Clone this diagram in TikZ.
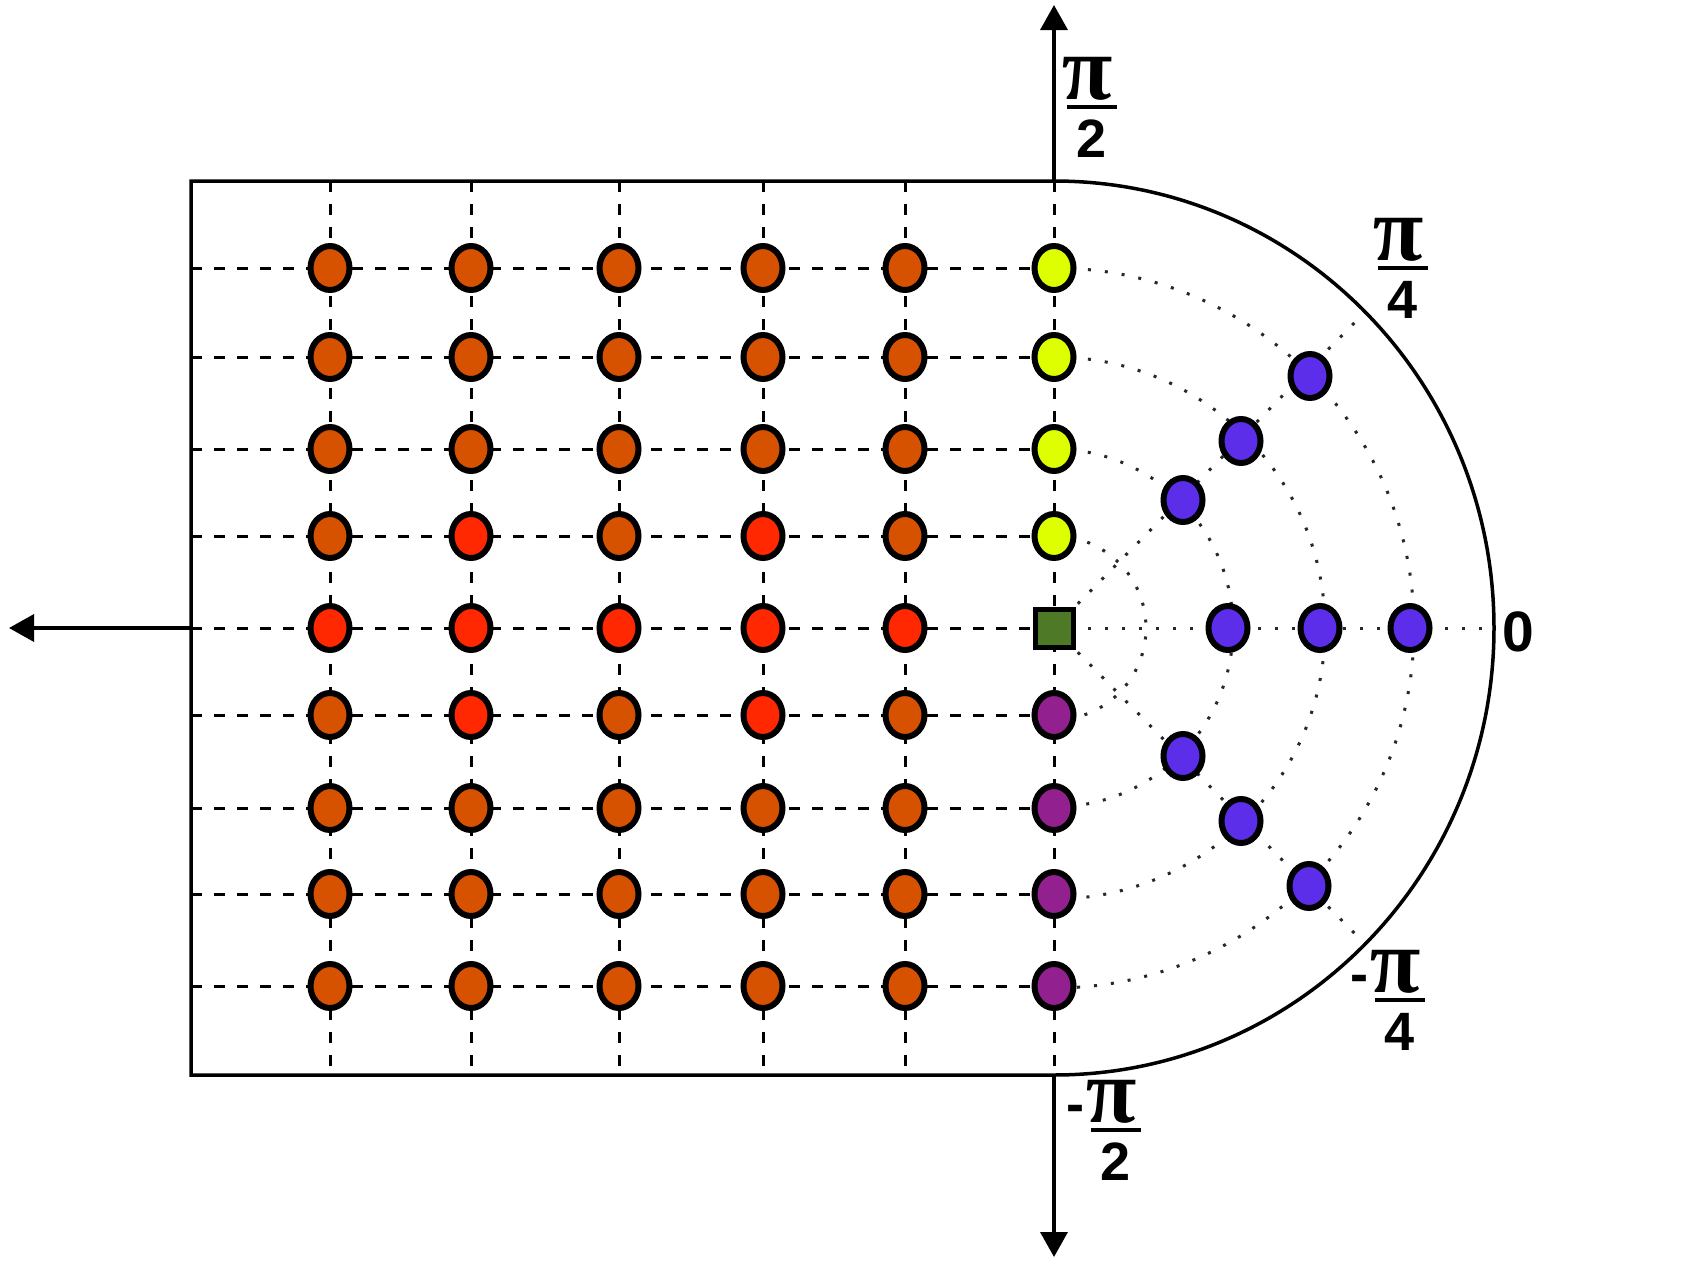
\documentclass[tikz,border=0pt]{standalone}
\usepackage{fontspec}
\setmainfont{Liberation Sans}
\newfontfamily\pifam[FakeSlant=-0.16]{Liberation Serif Bold Italic}
\usetikzlibrary{shapes.geometric,arrows.meta}
\definecolor{cOr}{RGB}{214,82,0}
\definecolor{cRd}{RGB}{255,40,0}
\definecolor{cYe}{RGB}{221,255,0}
\definecolor{cPu}{RGB}{146,32,142}
\definecolor{cBl}{RGB}{92,46,234}
\definecolor{cGr}{RGB}{78,122,40}
\definecolor{cDot}{RGB}{40,40,40}
\newcommand\pisym{{\pifam\fontsize{92}{92}\selectfont π}}
\newcommand\lfrac[2]{{\setlength\arrayrulewidth{4pt}\renewcommand\arraystretch{0}%
\begin{tabular}{@{}c@{}}#1\rule[-6pt]{0pt}{44pt}\\\hline\rule{0pt}{48pt}#2\end{tabular}}}
\newcommand\negsign{\llap{-\hspace{6pt}}}
\begin{document}
\begin{tikzpicture}[x=1pt,y=-1pt,
  gridline/.style={line width=3pt, dash pattern=on 11pt off 12pt},
  dotline/.style={line width=3pt, cDot, dash pattern=on 3pt off 14pt},
  outline/.style={line width=3.5pt, black},
  axisline/.style={line width=3.5pt, black, -{Triangle[width=27pt,length=25pt]}},
  dotnode/.style={ellipse, draw=black, line width=6pt, minimum width=39pt, minimum height=44pt, inner sep=0pt},
  sqnode/.style={rectangle, draw=black, line width=5pt, minimum size=38pt, inner sep=0pt, fill=cGr},
  lab/.style={font=\bfseries\fontsize{54}{54}\selectfont, inner sep=0pt}]
\useasboundingbox (0,0) rectangle (1706,1277);
\fill[white] (0,0) rectangle (1706,1277);
% coordinates
\coordinate (c) at (1054,628);
\coordinate (tl) at (191,181);
\coordinate (bl) at (191,1075);
\coordinate (tr) at (1054,181);
\coordinate (br) at (1054,1075);
\coordinate (topTip) at (1054,5);
\coordinate (botTip) at (1054,1257);
\coordinate (leftTip) at (9,628);
\coordinate (lm) at (191,628);
\coordinate (e45) at (1365,312);
\coordinate (em45) at (1365,944);
\coordinate (e0) at (1492,628);
% dashed grid
\foreach \y in {268,357,449,536,628,715,808,894,986}
  \draw[gridline] (191,\y) -- (1054,\y);
\foreach \x in {330,471,619,763,905,1054}
  \draw[gridline] (\x,181) -- (\x,1075);
% dotted polar lines
\foreach \r in {92,179,271,360}
  \draw[dotline] (1054,628-\r) arc[start angle=-90, end angle=90, radius=\r];
\draw[dotline] (c) -- (e45);
\draw[dotline] (c) -- (em45);
\draw[dotline] (c) -- (e0);
% outline
\draw[outline] (tr) -- (tl) -- (bl) -- (br)
  arc[start angle=90, end angle=-90, x radius=440, y radius=447];
% axes
\draw[axisline] (tr) -- (topTip);
\draw[axisline] (br) -- (botTip);
\draw[axisline] (lm) -- (leftTip);
% grid dots
\foreach \y [count=\r] in {268,357,449,536,628,715,808,894,986}{
  \foreach \x [count=\cc] in {330,471,619,763,905}{
    \def\col{cOr}
    \ifnum\r=5 \def\col{cRd}\fi
    \ifnum\r=4 \ifodd\cc\else\def\col{cRd}\fi\fi
    \ifnum\r=6 \ifodd\cc\else\def\col{cRd}\fi\fi
    \node[dotnode, fill=\col] (d\r\cc) at (\x,\y) {};
  }
}
\foreach \y [count=\r] in {268,357,449,536}
  \node[dotnode, fill=cYe] (y\r) at (1054,\y) {};
\foreach \y [count=\r] in {715,808,894,986}
  \node[dotnode, fill=cPu] (p\r) at (1054,\y) {};
\node[sqnode] (sq) at (c) {};
% blue dots
\foreach \p [count=\i] in {(1310,376),(1241,441),(1183,500),(1228,628),(1320,628),(1410,628),(1183,756),(1241,821),(1309,886)}
  \node[dotnode, fill=cBl] (b\i) at \p {};
% labels
\node[lab] (lpi2) at (1092,107) {\lfrac{\pisym}{2}};
\node[lab] (lpi4) at (1403,268) {\lfrac{\pisym}{4}};
\node[lab] (lmpi4) at (1400,1000) {\lfrac{\negsign\pisym}{4}};
\node[lab] (lmpi2) at (1116,1130) {\lfrac{\negsign\pisym}{2}};
\node[lab, font=\bfseries\fontsize{57}{57}\selectfont] (l0) at (1518,632) {0};
\end{tikzpicture}
\end{document}
